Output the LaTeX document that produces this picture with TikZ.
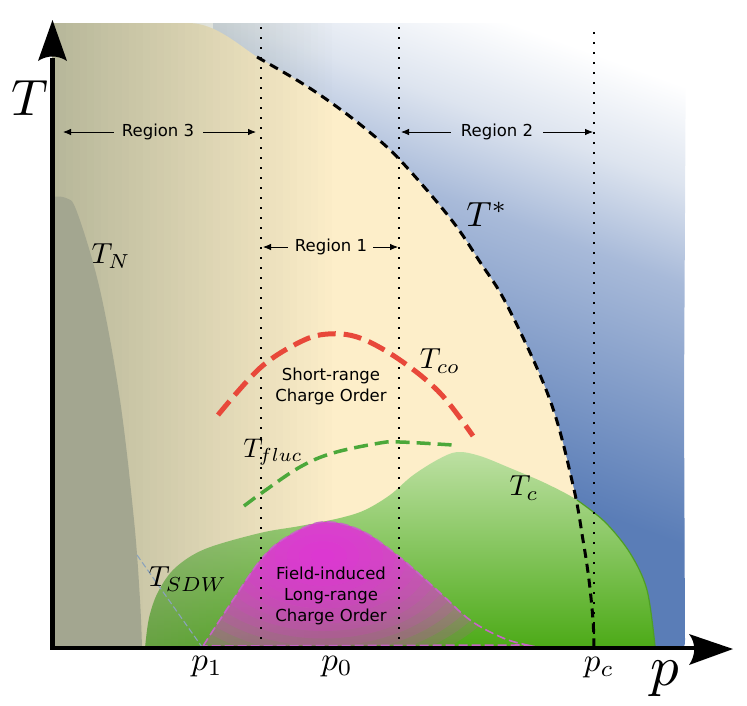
\documentclass[tikz,border=0pt]{standalone}
\usepackage{fontspec}
\setsansfont{DejaVu Sans}
\usetikzlibrary{arrows.meta}
\definecolor{cream}{HTML}{FDEEC9}
\definecolor{blueD}{HTML}{5A7DB7}
\definecolor{blueM}{HTML}{A8BAD9}
\definecolor{blueL}{HTML}{DDE4EF}
\definecolor{greenT}{HTML}{BDE0A3}
\definecolor{greenB}{HTML}{4CAA17}
\definecolor{greenEdge}{HTML}{4E9E25}
\definecolor{redC}{HTML}{E8483A}
\definecolor{greenDash}{HTML}{4BA83A}
\definecolor{magDash}{HTML}{C864C8}
\definecolor{magFill}{HTML}{E82EE0}
\definecolor{grayOv}{RGB}{140,150,125}
\definecolor{tnC}{HTML}{A3A690}
\definecolor{sdwC}{HTML}{8AA2BC}
\pgfdeclareverticalshading{bluesh}{100bp}{color(0bp)=(blueD); color(40bp)=(blueD); color(61bp)=(blueM); color(69bp)=(blueL); color(77bp)=(white); color(100bp)=(white)}
\tikzset{
  lab/.style={inner sep=0pt, scale=2.9},
  reg/.style={inner sep=0pt, font=\sffamily\fontsize{16.5}{21}\selectfont, align=center},
  regarrow/.style={-{Latex[length=8pt,width=6.5pt]}, line width=0.8pt},
  dotline/.style={line width=1.8pt, dash pattern=on 1.8pt off 8.2pt},
  tstarline/.style={line width=3pt, dash pattern=on 9pt off 6pt},
  coline/.style={redC, line width=5pt, dash pattern=on 18pt off 8pt},
  flucline/.style={greenDash, line width=3.5pt, dash pattern=on 14pt off 7pt},
  sdwline/.style={sdwC, line width=1.1pt, dash pattern=on 6pt off 3pt},
  magline/.style={magDash, line width=1.6pt, dash pattern=on 9pt off 4pt},
  axisline/.style={line width=4.5pt},
}
\begin{document}
\begin{tikzpicture}[x=1pt,y=-1pt]
\useasboundingbox (0,0) rectangle (747,705);
% blue region
\shade[shading=bluesh, shading angle=-20] (213,23) -- (686,23) -- (684,400) -- (685,640) .. controls (685,646) .. (680,648) -- (213,648) -- cycle;
% pseudogap (yellow) region
\fill[cream] (52,648) -- (52,23) -- (190,23) .. controls (215,24) and (235,42) .. (257,57)
  -- plot[smooth, tension=0.6] coordinates {(257,57) (300,82) (333,104) (367,130) (400,160) (450,218) (480,262) (508,307) (550,400) (573,485) (583,540) (589,580) (593,620) (594,648)} -- cycle;
% superconducting dome
\shade[top color=greenT, bottom color=greenB] plot[smooth, tension=0.55] coordinates {(145,648) (149,618) (158,592) (175,568) (205,549) (260,533) (300,526) (340,518) (365,510) (390,495) (412,476) (437,460) (457,452) (480,456) (510,468) (545,483) (577,500) (605,522) (630,553) (647,590) (655,648)} -- cycle;
\draw[greenEdge, line width=1.2pt] plot[smooth, tension=0.55] coordinates {(577,500) (605,522) (630,553) (647,590) (655,646)};
% gray overlay on the left
\foreach \i in {0,...,39} {
  \pgfmathsetmacro{\op}{0.62*(1-\i/40)}
  \fill[grayOv, opacity=\op] ({52+\i*7},23) rectangle ({52+(\i+1)*7},648);
}
% Neel region
\fill[tnC] plot[smooth, tension=0.6] coordinates {(52,197) (66,198) (77,212) (100,290) (120,400) (134,520) (140,600) (142,648)} -- (52,648) -- cycle;
% field-induced charge order (radial fade built from stacked ellipses)
\begin{scope}
  \clip plot[smooth, tension=0.6] coordinates {(203,646) (233,600) (263,557) (290,535) (323,522) (360,530) (397,555) (437,590) (470,620) (503,638) (527,645)} -- cycle;
  \foreach \k in {1,...,16} {
    \fill[magFill, opacity=0.14] (323,556) ellipse [x radius={12*\k}, y radius={7.5*\k}];
  }
\end{scope}
\draw[magline] plot[smooth, tension=0.6] coordinates {(203,646) (233,600) (263,557) (290,535) (323,522) (360,530) (397,555) (437,590) (470,620) (503,638) (527,645)} -- cycle;
% dotted verticals
\coordinate (d1t) at (261,27); \coordinate (d1b) at (261,648);
\coordinate (d2t) at (399,27); \coordinate (d2b) at (399,648);
\coordinate (d3t) at (594,32); \coordinate (d3b) at (594,648);
\draw[dotline] (d1t) -- (d1b);
\draw[dotline] (d2t) -- (d2b);
\draw[dotline] (d3t) -- (d3b);
% T* line
\draw[tstarline] plot[smooth, tension=0.6] coordinates {(257,57) (300,82) (333,104) (367,130) (400,160) (450,218) (480,262) (508,307) (550,400) (573,485) (583,540) (589,580) (593,620) (594,648)};
% T_co
\draw[coline] plot[smooth, tension=0.6] coordinates {(218,415) (260,368) (300,342) (328,334) (360,338) (400,360) (440,393) (473,436)};
% T_fluc
\draw[flucline] plot[smooth, tension=0.6] coordinates {(244,506) (263,492) (300,467) (333,453) (380,443) (400,442) (453,445)};
% T_SDW
\draw[sdwline] (137,555) -- (202,647);
% axes
\coordinate (O) at (52.5,648);
\coordinate (Tend) at (52.5,58);
\coordinate (pend) at (700,648);
\draw[axisline] (O) -- (Tend);
\draw[axisline] ([xshift=-2.25pt]O) -- (pend);
\fill (52.5,20) -- (67,61) .. controls (58,55) and (47,55) .. (38,61) -- cycle;
\fill (733,649) -- (689,634) .. controls (696,643) and (696,655) .. (689,665) -- cycle;
% labels
\node[inner sep=0pt, scale=5.1] (Tlab) at (30,98) {$T$};
\node[inner sep=0pt, scale=5.7] (plab) at (665,679) {$p$};
\node[inner sep=0pt, scale=3.5] (Tstar) at (487,214) {$T^{*}$};
\node[lab] (TN) at (111,256) {$T_N$};
\node[lab] (Tco) at (440,361) {$T_{co}$};
\node[lab, scale=0.93] (Tfluc) at (273,452) {$T_{fluc}$};
\node[lab] (Tc) at (524,488) {$T_c$};
\node[lab] (TSDW) at (188,579) {$T_{SDW}$};
\node[inner sep=0pt, scale=3.3] (p1) at (207,667) {$p_1$};
\node[inner sep=0pt, scale=3.3] (p0) at (337,667) {$p_0$};
\node[inner sep=0pt, scale=3.3] (pc) at (599,668) {$p_c$};
\node[reg] (sr) at (331,386) {Short-range\\Charge Order};
\node[reg] (fi) at (331,596) {Field-induced\\Long-range\\Charge Order};
% regions
\node[reg] (r3) at (158,132) {Region 3};
\node[reg] (r1) at (331,247) {Region 1};
\node[reg] (r2) at (497,132) {Region 2};
\coordinate (r3L) at (63,132); \coordinate (r3R) at (256,132);
\coordinate (r1L) at (263,247); \coordinate (r1R) at (398,247);
\coordinate (r2L) at (401,132); \coordinate (r2R) at (593,132);
\draw[regarrow] ([xshift=-8pt]r3.west) -- (r3L);
\draw[regarrow] ([xshift=9pt]r3.east) -- (r3R);
\draw[regarrow] ([xshift=-7pt]r1.west) -- (r1L);
\draw[regarrow] ([xshift=6pt]r1.east) -- (r1R);
\draw[regarrow] ([xshift=-10pt]r2.west) -- (r2L);
\draw[regarrow] ([xshift=10pt]r2.east) -- (r2R);
\end{tikzpicture}
\end{document}
